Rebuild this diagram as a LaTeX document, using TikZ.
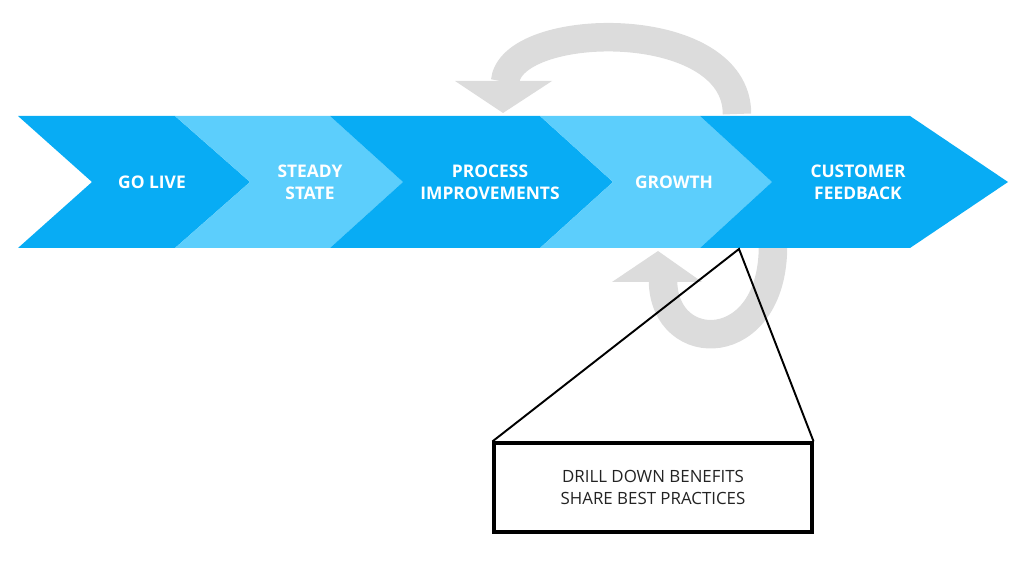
\documentclass[tikz,border=0pt]{standalone}
\usepackage{fontspec}
\setmainfont{Open Sans}
\definecolor{bdark}{RGB}{8,172,244}
\definecolor{blight}{RGB}{92,206,252}
\definecolor{garrow}{RGB}{220,220,220}
\definecolor{boxtext}{RGB}{35,35,35}
\tikzset{
  seglabel/.style={text=white, font=\bfseries\fontsize{9.9}{12.3}\selectfont, align=center},
  grayshaft/.style={draw=garrow, line width=0.57cm, line cap=butt},
  grayhead/.style={fill=garrow, draw=none},
  pointer/.style={draw=black, line width=1.1pt},
  notebox/.style={draw=black, line width=1.8pt, minimum width=6.36cm, minimum height=1.78cm, inner sep=0pt, text=boxtext, font=\fontsize{9.6}{12.5}\selectfont, align=center}
}
\begin{document}
\begin{tikzpicture}[x=0.02cm,y=-0.02cm]
\useasboundingbox (0,0) rectangle (1024,567);
% gray cycle arrows
\draw[grayshaft] (737,114) .. controls (737,15) and (510,20) .. (505,82);
\fill[grayhead] (455,81) -- (552,81) -- (503,113) -- cycle;
\draw[grayshaft] (773,246) .. controls (773,357) and (664,357) .. (663,281);
\fill[grayhead] (612,282) -- (702,282) -- (658,251) -- cycle;
% chevron band
\fill[bdark] (18,116) -- (175,116) -- (250,182) -- (175,248) -- (18,248) -- (92,182) -- cycle;
\fill[blight] (175,116) -- (330,116) -- (403,182) -- (330,248) -- (175,248) -- (250,182) -- cycle;
\fill[bdark] (330,116) -- (540,116) -- (613,182) -- (540,248) -- (330,248) -- (403,182) -- cycle;
\fill[blight] (540,116) -- (700,116) -- (772,182) -- (700,248) -- (540,248) -- (613,182) -- cycle;
\fill[bdark] (700,116) -- (910,116) -- (1008,182) -- (910,248) -- (700,248) -- (772,182) -- cycle;
% labels
\node[seglabel] (golive) at (152,182) {GO LIVE};
\node[seglabel] (steady) at (310,182) {STEADY\\STATE};
\node[seglabel] (process) at (490,182) {PROCESS\\IMPROVEMENTS};
\node[seglabel] (growth) at (674,182) {GROWTH};
\node[seglabel] (customer) at (858,182) {CUSTOMER\\FEEDBACK};
% callout
\coordinate (apex) at (739,249);
\node[notebox] (box) at (653,487.5) {DRILL DOWN BENEFITS\\SHARE BEST PRACTICES};
\draw[pointer] (box.north west) -- (apex) -- (box.north east);
\end{tikzpicture}
\end{document}
